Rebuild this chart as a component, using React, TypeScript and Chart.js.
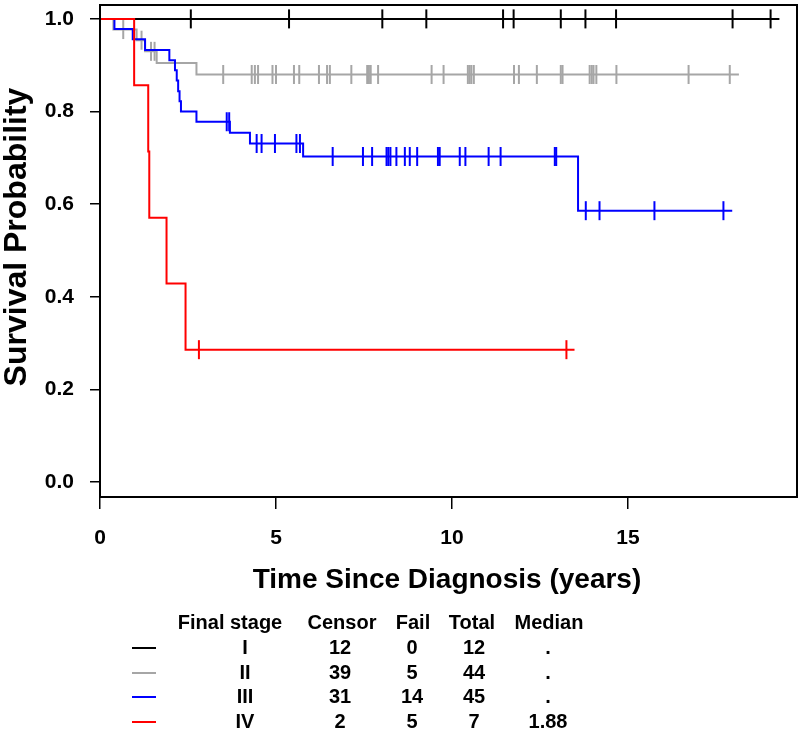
import React, { useEffect, useRef } from "react";
import { Chart, registerables } from "chart.js";

Chart.register(...registerables);

// ---- Data ----
const stageITimes = [0, 19.3];
const stageISurv = [1, 1];
const stageICensor = [2.58, 5.37, 8.02, 9.27, 11.45, 11.75, 13.09, 13.79, 14.66, 17.97, 19.05];

const stageIITimes = [0, 0.38, 1.04, 1.28, 1.61, 2.74, 18.15];
const stageIISurv = [1, 0.977, 0.954, 0.93, 0.905, 0.88, 0.88];
const stageIICensor = [
  0.66, 1.18, 1.45, 1.55, 3.5, 4.31, 4.4, 4.49, 4.9, 5.0, 5.51, 5.66, 6.22, 6.45, 6.53,
  7.14, 7.59, 7.64, 7.69, 7.9, 9.42, 9.76, 10.45, 10.5, 10.55, 10.62, 11.76, 11.9,
  12.41, 13.09, 13.14, 13.91, 13.97, 14.02, 14.1, 14.67, 16.72, 17.89,
];

const stageIIITimes = [0, 0.41, 0.93, 1.28, 1.97, 2.13, 2.18, 2.22, 2.26, 2.3, 2.74, 3.69, 4.26, 5.77, 13.58, 17.96];
const stageIIISurv = [1, 0.978, 0.956, 0.933, 0.911, 0.889, 0.867, 0.844, 0.822, 0.8, 0.778, 0.754, 0.731, 0.703, 0.586, 0.586];
const stageIIICensor = [
  3.6, 3.67, 4.45, 4.59, 4.97, 5.58, 5.68, 6.61, 7.47, 7.73, 8.14, 8.19, 8.25, 8.42,
  8.66, 8.8, 9.01, 9.6, 9.65, 10.22, 10.38, 11.04, 11.38, 12.92, 12.96, 13.8, 14.19,
  15.75, 17.71,
];

const stageIVTimes = [0, 0.97, 1.37, 1.4, 1.89, 2.43, 13.48];
const stageIVSurv = [1, 0.857, 0.714, 0.571, 0.429, 0.286, 0.286];
const stageIVCensor = [2.81, 13.25];

const xTicks = [0, 5, 10, 15];
const yTicks = [0, 0.2, 0.4, 0.6, 0.8, 1.0];

const tableHeader = ["Final stage", "Censor", "Fail", "Total", "Median"];
const tableStages = ["I", "II", "III", "IV"];
const tableCensor = ["12", "39", "31", "2"];
const tableFail = ["0", "5", "14", "5"];
const tableTotal = ["12", "44", "45", "7"];
const tableMedian = [".", ".", ".", "1.88"];
const stageColors = ["#000000", "#a6a6a6", "#0000ff", "#ff0000"];

const FONT = '"Liberation Sans", Arial, Helvetica, sans-serif';

function survAt(times: number[], surv: number[], t: number) {
  let s = surv[0];
  for (let i = 0; i < times.length; i++) {
    if (times[i] <= t) s = surv[i];
  }
  return s;
}

function curve(times: number[], surv: number[], color: string) {
  return {
    data: times.map((t, i) => ({ x: t, y: surv[i] })),
    showLine: true,
    stepped: true,
    borderColor: color,
    borderWidth: 2,
    pointRadius: 0,
    fill: false,
  };
}

function marks(censor: number[], times: number[], surv: number[], color: string) {
  return {
    data: censor.map((t) => ({ x: t, y: survAt(times, surv, t) })),
    showLine: false,
    pointStyle: "line",
    rotation: 90,
    pointRadius: 9.5,
    pointBorderWidth: 2,
    borderColor: color,
    pointBorderColor: color,
    backgroundColor: color,
  };
}

const decorPlugin = {
  id: "decor",
  afterDraw(chart: any) {
    const ctx = chart.ctx;
    const a = chart.chartArea;
    ctx.save();
    // box
    ctx.strokeStyle = "#000";
    ctx.lineWidth = 2;
    ctx.strokeRect(a.left, a.top, a.right - a.left, a.bottom - a.top);

    ctx.fillStyle = "#000";
    ctx.textAlign = "center";
    ctx.textBaseline = "middle";
    // x title
    ctx.font = `bold 28px ${FONT}`;
    ctx.fillText("Time Since Diagnosis (years)", 447, 580);
    // y title
    ctx.save();
    ctx.translate(17, 237);
    ctx.rotate(-Math.PI / 2);
    ctx.font = `bold 32px ${FONT}`;
    ctx.fillText("Survival Probability", 0, 0);
    ctx.restore();

    // table
    ctx.font = `bold 20px ${FONT}`;
    const headX = [230, 342, 413, 472, 549];
    tableHeader.forEach((h, i) => ctx.fillText(h, headX[i], 623));
    const colX = [245, 340, 412, 474, 548];
    const rowY = [648, 673, 697, 722];
    tableStages.forEach((s, r) => {
      const y = rowY[r];
      ctx.strokeStyle = stageColors[r];
      ctx.lineWidth = 2;
      ctx.beginPath();
      ctx.moveTo(132, y);
      ctx.lineTo(156, y);
      ctx.stroke();
      const vals = [s, tableCensor[r], tableFail[r], tableTotal[r], tableMedian[r]];
      vals.forEach((v, c) => ctx.fillText(v, colX[c], y));
    });
    ctx.restore();
  },
};

export default function App() {
  const ref = useRef<HTMLCanvasElement | null>(null);
  useEffect(() => {
    if (!ref.current) return;
    Chart.defaults.font.family = FONT;
    const chart = new Chart(ref.current, {
      type: "scatter",
      data: {
        datasets: [
          curve(stageIVTimes, stageIVSurv, stageColors[3]),
          marks(stageIVCensor, stageIVTimes, stageIVSurv, stageColors[3]),
          curve(stageIIITimes, stageIIISurv, stageColors[2]),
          marks(stageIIICensor, stageIIITimes, stageIIISurv, stageColors[2]),
          curve(stageIITimes, stageIISurv, stageColors[1]),
          marks(stageIICensor, stageIITimes, stageIISurv, stageColors[1]),
          curve(stageITimes, stageISurv, stageColors[0]),
          marks(stageICensor, stageITimes, stageISurv, stageColors[0]),
        ] as any,
      },
      options: {
        animation: false,
        responsive: false,
        devicePixelRatio: 1,
        events: [],
        layout: { autoPadding: false, padding: { left: 0, right: 3, top: 5, bottom: 0 } },
        plugins: { legend: { display: false }, tooltip: { enabled: false } },
        scales: {
          x: {
            type: "linear",
            min: 0,
            max: 19.8,
            afterFit(scale: any) {
              scale.height = 233;
              scale.paddingLeft = 0;
              scale.paddingRight = 0;
              scale.paddingTop = 0;
              scale.paddingBottom = 0;
            },
            afterBuildTicks(scale: any) {
              scale.ticks = xTicks.map((v) => ({ value: v }));
            },
            grid: { display: true, drawOnChartArea: false, drawTicks: true, tickLength: 12, color: "#000", lineWidth: 1.5 },
            border: { display: false },
            ticks: {
              color: "#000",
              font: { size: 21, weight: "bold" },
              padding: 17,
              maxRotation: 0,
              callback: (v: any) => String(v),
            },
          },
          y: {
            type: "linear",
            min: -0.032,
            max: 1.03,
            afterFit(scale: any) {
              scale.width = 100;
              scale.paddingLeft = 0;
              scale.paddingRight = 0;
              scale.paddingTop = 0;
              scale.paddingBottom = 0;
            },
            afterBuildTicks(scale: any) {
              scale.ticks = yTicks.map((v) => ({ value: v }));
            },
            grid: { display: true, drawOnChartArea: false, drawTicks: true, tickLength: 10, color: "#000", lineWidth: 1.5 },
            border: { display: false },
            ticks: {
              color: "#000",
              font: { size: 21, weight: "bold" },
              padding: 16,
              callback: (v: any) => Number(v).toFixed(1),
            },
          },
        },
      } as any,
      plugins: [decorPlugin],
    });
    return () => chart.destroy();
  }, []);
  return (
    <div style={{ position: "absolute", left: 0, top: 0, width: 800, height: 730, background: "#fff" }}>
      <canvas ref={ref} width={800} height={730} style={{ display: "block", width: 800, height: 730 }} />
    </div>
  );
}
